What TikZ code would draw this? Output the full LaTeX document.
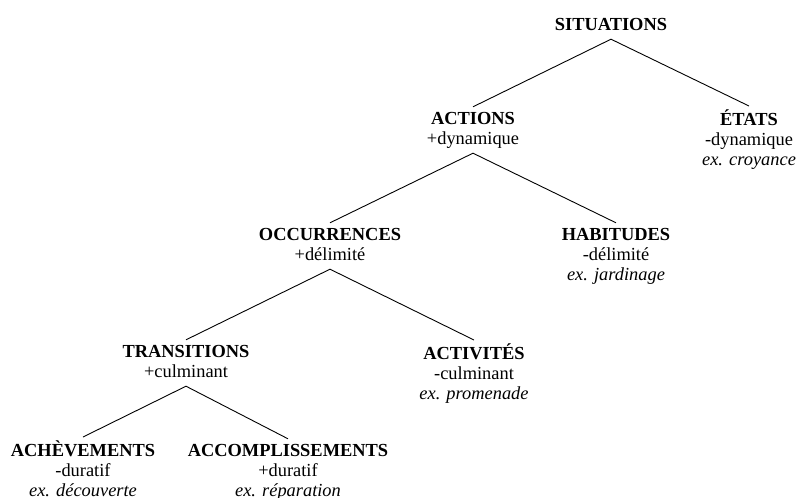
\documentclass[tikz,border=0pt]{standalone}
\usepackage{fontspec}
\setmainfont{Liberation Serif}
\newcommand\cpt[1]{\begin{tabular}[t]{@{}c@{}}#1\end{tabular}}
\begin{document}
\begin{tikzpicture}[x=1pt,y=-1pt,
  concept/.style={inner xsep=0pt, inner ysep=3pt, anchor=base,
    font=\fontsize{18.4}{20}\selectfont},
  edge/.style={draw=black, line width=0.9pt}]
\useasboundingbox (0,0) rectangle (796,498);
\node[concept] (sit) at (611,30) {\cpt{\textbf{SITUATIONS}}};
\node[concept] (act) at (473,124) {\cpt{\textbf{ACTIONS}\\+dynamique}};
\node[concept] (eta) at (749,125) {\cpt{\textbf{ÉTATS}\\-dynamique\\\textit{ex. croyance}}};
\node[concept] (occ) at (330,240) {\cpt{\textbf{OCCURRENCES}\\+délimité}};
\node[concept] (hab) at (616,240) {\cpt{\textbf{HABITUDES}\\-délimité\\\textit{ex. jardinage}}};
\node[concept] (tra) at (186,357) {\cpt{\textbf{TRANSITIONS}\\+culminant}};
\node[concept] (acv) at (474,359) {\cpt{\textbf{ACTIVITÉS}\\-culminant\\\textit{ex. promenade}}};
\node[concept] (ach) at (83,456) {\cpt{\textbf{ACHÈVEMENTS}\\-duratif\\\textit{ex. découverte}}};
\node[concept] (acc) at (288,456) {\cpt{\textbf{ACCOMPLISSEMENTS}\\+duratif\\\textit{ex. réparation}}};
\draw[edge] (act.north) -- (sit.south) -- (eta.north);
\draw[edge] (occ.north) -- (act.south) -- (hab.north);
\draw[edge] (tra.north) -- (occ.south) -- (acv.north);
\draw[edge] (ach.north) -- (tra.south) -- (acc.north);
\end{tikzpicture}
\end{document}
